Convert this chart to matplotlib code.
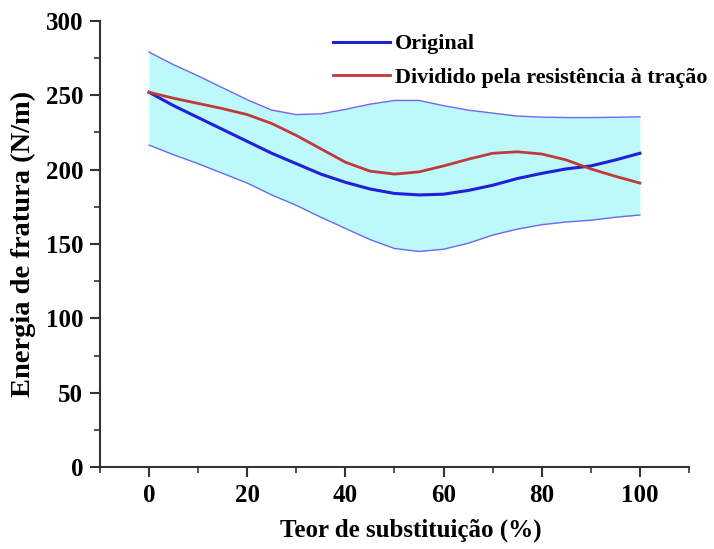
import matplotlib
matplotlib.use("Agg")
import matplotlib.pyplot as plt

# values
teor = [0, 5, 10, 15, 20, 25, 30, 35, 40, 45, 50, 55, 60, 65, 70, 75, 80, 85, 90, 95, 100]
original = [252, 243, 235, 227, 219, 211, 204, 197, 191.5, 187, 184, 183, 183.5, 186, 189.5,
            194, 197.5, 200.5, 202.5, 206.5, 211]
dividido = [252, 248, 244.5, 241, 237, 231, 223, 214, 205, 199, 197, 198.5, 202.5, 207, 211,
            212, 210.5, 206.5, 200.5, 195.5, 191]
banda_sup = [279, 270.5, 263, 255, 247, 240, 237, 237.5, 240.5, 244, 246.5, 246.5, 243, 240, 238,
             236, 235.3, 235, 235, 235.2, 235.5]
banda_inf = [216.5, 210, 204, 197.5, 191, 183, 176, 168, 160.5, 153, 147, 145, 146.5, 150.5, 156,
             160, 163, 164.8, 166, 168, 169.5]

plt.rcParams['font.family'] = ['Liberation Serif', 'DejaVu Serif']
plt.rcParams['font.weight'] = 'bold'

fig = plt.figure(figsize=(7.14, 5.49), dpi=100)
ax = fig.add_axes([0.140, 0.149, 0.825, 0.813])

ax.fill_between(teor, banda_inf, banda_sup, color='#bdf8fa', lw=0)
ax.plot(teor, banda_sup, color='#6a6af0', lw=1.0)
ax.plot(teor, banda_inf, color='#6a6af0', lw=1.0)
ax.plot(teor, original, color='#2020d8', lw=2.2, label='Original')
ax.plot(teor, dividido, color='#c0393b', lw=2.0, label='Dividido pela resistência à tração')

ax.set_xlim(-10, 110)
ax.set_ylim(0, 300)
ax.set_xticks([0, 20, 40, 60, 80, 100])
ax.set_xticks(range(-10, 111, 10), minor=True)
ax.set_yticks(range(0, 301, 50))
ax.set_yticks(range(0, 301, 25), minor=True)

for s in ['top', 'right']:
    ax.spines[s].set_visible(False)
for s in ['left', 'bottom']:
    ax.spines[s].set_linewidth(1.5)
    ax.spines[s].set_color('#333333')

ax.tick_params(which='major', direction='out', length=7, width=1.5, labelsize=18, color='#333333')
ax.tick_params(which='minor', direction='out', length=4, width=1.2, color='#333333')
ax.tick_params(axis='x', pad=5)
ax.tick_params(axis='y', pad=5)

ax.set_xlabel('Teor de substituição (%)', fontsize=18, fontweight='bold')
ax.xaxis.set_label_coords(0.528, -0.115)
ax.set_ylabel('Energia de fratura (N/m)', fontsize=20.5, fontweight='bold', labelpad=7)

leg = ax.legend(loc='upper left', bbox_to_anchor=(0.38, 0.99), frameon=False,
                fontsize=15.8, handlelength=2.6, handletextpad=0.25, labelspacing=0.6,
                borderaxespad=0.0)
for t in leg.get_texts():
    t.set_fontweight('bold')

fig.savefig('out.png', dpi=100)
